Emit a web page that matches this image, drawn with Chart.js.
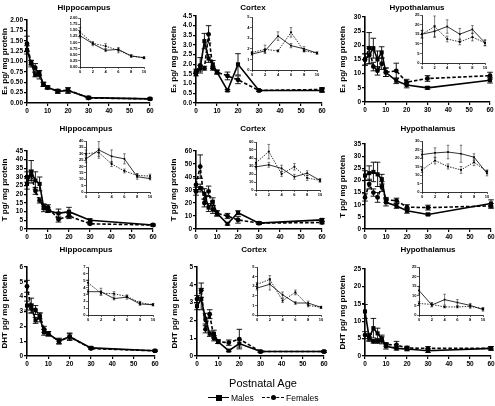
<!DOCTYPE html>
<html>
<head>
<meta charset="utf-8">
<script src="https://cdn.jsdelivr.net/npm/chart.js@4.4.1/dist/chart.umd.min.js"></script>
<style>
  body { margin: 0; width: 495px; height: 406px; position: relative; overflow: hidden; background: #fff;
         font-family: "Liberation Sans", Arial, sans-serif; }
  .ttl { position: absolute; font-weight: bold; font-size: 8px; transform: translate(-50%, -50%); white-space: nowrap; }
  .xlab { position: absolute; font-size: 11px; transform: translate(-50%, -50%); white-space: nowrap; }
  .leg { position: absolute; font-size: 8.5px; transform: translateY(-50%); white-space: nowrap; }
  .seg { position: absolute; height: 0; }
  .mk { position: absolute; background: #000; }
</style>
</head>
<body>
<script>
'use strict';

// ---------- data ----------
const days = [0, 2, 4, 6, 8, 10, 15, 20, 30, 60];
const xTicksMain = [0, 10, 20, 30, 40, 50, 60];
const xTicksInset = [0, 2, 4, 6, 8, 10];
const regions = ['Hippocampus', 'Cortex', 'Hypothalamus'];
const yTitles = ['E\u2082 pg/ mg protein', 'T pg/ mg protein', 'DHT pg/ mg protein'];
const seriesNames = ['Males', 'Females'];

// estradiol
const e2HipM = [1.28, 0.95, 0.68, 0.72, 0.45, 0.38, 0.28, 0.30, 0.13, 0.10];
const e2HipF = [1.43, 0.97, 0.85, 0.68, 0.45, 0.37, 0.29, 0.31, 0.12, 0.10];
const e2HipMErr = [0.10, 0.08, 0.05, 0.06, 0.05, 0.04, 0.05, 0.07, 0.03, 0.02];
const e2HipFErr = [0.18, 0.05, 0.10, 0.10, 0.05, 0.03, 0.03, 0.05, 0.02, 0.02];

const e2CtxM = [1.5, 1.8, 3.2, 2.3, 2.0, 1.6, 0.65, 2.0, 0.65, 0.65];
const e2CtxF = [1.65, 1.95, 1.8, 3.55, 1.8, 1.6, 1.4, 1.2, 0.65, 0.7];
const e2CtxMErr = [0.1, 0.15, 0.4, 0.2, 0.2, 0.1, 0.05, 0.55, 0.05, 0.1];
const e2CtxFErr = [0.1, 0.4, 0.1, 0.45, 0.1, 0.1, 0.2, 0.2, 0.05, 0.1];

const e2HypM = [15, 16.5, 19, 15, 17.5, 10.5, 7.5, 6, 5, 7.7];
const e2HypF = [15, 19, 12.5, 11, 13.5, 10.5, 11, 7, 8.3, 9.3];
const e2HypMErr = [2, 3, 3.5, 3, 2, 1.5, 1, 1, 0.5, 1];
const e2HypFErr = [2, 5.5, 1.5, 1.5, 2, 1.5, 2.7, 1, 1, 1.2];

// testosterone
const tHipM = [26, 33, 28, 26, 12, 10.5, 9, 10, 5, 2.3];
const tHipF = [30, 31, 22, 16.5, 13, 12.5, 5.5, 7.5, 3, 2.3];
const tHipMErr = [3, 6.5, 5, 4, 2, 1, 2.5, 2.5, 0.8, 0.5];
const tHipFErr = [3, 3, 2, 1.5, 1.5, 1.5, 1.5, 1.5, 0.5, 0.5];

const tCtxM = [29, 31.5, 27, 16.5, 21, 12, 4, 12.5, 4.5, 7];
const tCtxF = [34, 48, 20, 29, 15, 12, 10, 7, 4.5, 5];
const tCtxMErr = [3, 3, 4, 3, 3, 2, 1, 1.5, 1, 1];
const tCtxFErr = [5, 9, 3, 4, 3, 2, 2, 2.5, 1, 1];

const tHypM = [22, 23, 23.5, 22.5, 20.5, 11, 9.5, 7.5, 6, 10.5];
const tHypF = [13, 18.5, 15, 13, 17.5, 12, 11.7, 9, 8.8, 9.5];
const tHypMErr = [2, 3, 4, 5, 2, 1.5, 1, 1, 0.5, 1.5];
const tHypFErr = [1.5, 2, 1.5, 2, 2, 1, 1, 1, 1, 1];

// dihydrotestosterone
const dhtHipM = [3.4, 3.4, 2.4, 2.6, 1.6, 1.5, 1.0, 1.3, 0.55, 0.35];
const dhtHipF = [4.7, 3.2, 3.1, 2.7, 1.8, 1.5, 1.0, 1.3, 0.5, 0.35];
const dhtHipMErr = [0.3, 0.5, 0.2, 0.3, 0.2, 0.15, 0.2, 0.25, 0.08, 0.05];
const dhtHipFErr = [0.4, 0.3, 0.3, 0.2, 0.2, 0.15, 0.15, 0.2, 0.05, 0.05];

const dhtCtxM = [2.8, 3.2, 2.1, 1.25, 1.25, 0.8, 0.3, 0.7, 0.25, 0.25];
const dhtCtxF = [3.2, 3.7, 1.5, 2.35, 1.0, 0.8, 0.75, 0.95, 0.25, 0.25];
const dhtCtxMErr = [0.2, 0.6, 0.3, 0.15, 0.2, 0.1, 0.05, 0.2, 0.05, 0.05];
const dhtCtxFErr = [0.2, 0.4, 0.2, 0.25, 0.15, 0.1, 0.15, 0.55, 0.05, 0.05];

const dhtHypM = [12.8, 5.2, 8, 6.5, 5, 2.8, 2.2, 2, 1.5, 2.2];
const dhtHypF = [6, 5.5, 4.2, 4.2, 4.5, 3.3, 3.2, 2.3, 2.2, 2.2];
const dhtHypMErr = [2, 1, 2.8, 1.5, 1, 0.8, 0.5, 0.5, 0.5, 0.5];
const dhtHypFErr = [1, 1, 0.5, 0.5, 1, 0.5, 1, 0.5, 0.5, 0.5];

// y axis ranges: [max, step] for main plots and insets
const mainYMax = [2, 4.5, 30, 45, 60, 35, 6, 5, 25];
const mainYStep = [0.25, 0.5, 5, 5, 10, 5, 1, 1, 5];
const insetYMax = [2, 5, 25, 40, 60, 30, 7, 5, 25];
const insetYStep = [0.25, 1, 5, 5, 10, 5, 1, 1, 5];

// ---------- layout (plot areas in page pixels: x1, y1, x2, y2) ----------
const mainBox = [[27, 20, 150, 103], [196, 16, 322, 103], [365, 17, 490, 102],
                 [27, 151, 153, 229], [196, 151, 322, 229], [365, 144, 491, 229],
                 [27, 267, 155, 356], [197, 267, 324, 356], [365, 269, 491, 356]];
const insetBox = [[80, 18, 144, 67], [252, 17, 317, 70], [422, 15, 485, 63],
                  [86, 141, 150, 192], [256, 142, 320, 190], [422, 141, 487, 192],
                  [88, 267, 153, 315], [257, 267, 321, 315], [419, 267, 483, 315]];
const titlePos = [[[84, 7], [253, 7], [417, 7]],
                  [[86, 128], [253, 128], [428, 128]],
                  [[86, 249], [254, 249], [428, 249]]];

const panels = [
  [e2HipM, e2HipF, e2HipMErr, e2HipFErr], [e2CtxM, e2CtxF, e2CtxMErr, e2CtxFErr], [e2HypM, e2HypF, e2HypMErr, e2HypFErr],
  [tHipM, tHipF, tHipMErr, tHipFErr], [tCtxM, tCtxF, tCtxMErr, tCtxFErr], [tHypM, tHypF, tHypMErr, tHypFErr],
  [dhtHipM, dhtHipF, dhtHipMErr, dhtHipFErr], [dhtCtxM, dhtCtxF, dhtCtxMErr, dhtCtxFErr], [dhtHypM, dhtHypF, dhtHypMErr, dhtHypFErr]
];

Chart.defaults.font.family = '"Liberation Sans", Arial, sans-serif';
Chart.defaults.color = '#000';

// error bars from dataset.errors
const errorBars = {
  id: 'errorBars',
  afterDatasetsDraw(chart) {
    const ctx = chart.ctx;
    const yScale = chart.scales.y;
    chart.data.datasets.forEach((ds, i) => {
      if (!ds.errors) return;
      const meta = chart.getDatasetMeta(i);
      ctx.save();
      ctx.strokeStyle = '#000';
      ctx.lineWidth = ds.errWidth;
      meta.data.forEach((pt, j) => {
        const v = ds.data[j].y;
        const e = ds.errors[j];
        const yTop = yScale.getPixelForValue(v + e);
        const yBot = yScale.getPixelForValue(Math.max(v - e, 0));
        const c = ds.capSize;
        ctx.beginPath();
        ctx.moveTo(pt.x, yTop); ctx.lineTo(pt.x, yBot);
        ctx.moveTo(pt.x - c, yTop); ctx.lineTo(pt.x + c, yTop);
        ctx.moveTo(pt.x - c, yBot); ctx.lineTo(pt.x + c, yBot);
        ctx.stroke();
      });
      ctx.restore();
    });
  }
};

function stepTicks(max, step) {
  let out = [];
  for (let k = 0; k * step <= max + 1e-9; k++) out.push({ value: +(k * step).toFixed(4) });
  return out;
}

function decimalsFor(step) {
  if (step < 0.5) return 2;
  if (step < 1) return 1;
  return 0;
}

function addChart(box, inset, vals, yMax, yStep, yTitle) {
  const wy = inset ? 12 : 27;
  const hx = inset ? 9 : 14;
  const padT = inset ? 4 : 6;
  const padR = inset ? 4 : 5;
  const left = box[0] - wy;
  const top = box[1] - padT;
  const w = box[2] - left + padR;
  const h = box[3] + hx - top;

  const cv = document.createElement('canvas');
  cv.width = w;
  cv.height = h;
  cv.style.cssText = `position:absolute;left:${left}px;top:${top}px;width:${w}px;height:${h}px;`;
  document.body.appendChild(cv);

  const n = inset ? 6 : days.length;
  const pts = arr => days.slice(0, n).map((d, i) => ({ x: d, y: arr[i] }));
  const dec = decimalsFor(yStep);
  const tickFont = inset ? { size: 4, weight: 'bold' } : { size: 6.5, weight: 'bold' };
  const lw = inset ? 0.8 : 1.6;

  new Chart(cv, {
    type: 'scatter',
    data: {
      datasets: [
        {
          label: seriesNames[1],
          data: pts(vals[1]),
          errors: vals[3].slice(0, n),
          showLine: true,
          borderColor: '#000',
          backgroundColor: '#000',
          borderWidth: lw,
          borderDash: inset ? [1.5, 1.2] : [3.5, 2],
          pointStyle: 'circle',
          pointRadius: inset ? 1.1 : 2.4,
          pointBorderWidth: 0,
          errWidth: inset ? 0.5 : 0.9,
          capSize: inset ? 1.3 : 2.8,
          clip: false
        },
        {
          label: seriesNames[0],
          data: pts(vals[0]),
          errors: vals[2].slice(0, n),
          showLine: true,
          borderColor: '#000',
          backgroundColor: '#000',
          borderWidth: lw,
          pointStyle: 'rect',
          pointRadius: inset ? 1.2 : 2.9,
          pointBorderWidth: 0,
          errWidth: inset ? 0.5 : 0.9,
          capSize: inset ? 1.3 : 2.8,
          clip: false
        }
      ]
    },
    options: {
      responsive: false,
      animation: false,
      devicePixelRatio: 1,
      layout: { padding: { top: padT, right: padR, left: 0, bottom: 0 } },
      plugins: { legend: { display: false }, tooltip: { enabled: false } },
      scales: {
        x: {
          type: 'linear',
          min: 0,
          max: inset ? 10 : 60,
          afterBuildTicks: s => { s.ticks = (inset ? xTicksInset : xTicksMain).map(v => ({ value: v })); },
          afterFit: s => { s.height = hx; s.paddingLeft = 0; s.paddingRight = 0; },
          grid: { drawOnChartArea: false, drawTicks: true, tickLength: inset ? 2 : 3, color: '#000', lineWidth: inset ? 0.6 : 1.2 },
          border: { color: '#000', width: inset ? 0.8 : 1.6 },
          ticks: { font: tickFont, padding: inset ? 0.5 : 1, maxRotation: 0, autoSkip: false }
        },
        y: {
          min: 0,
          max: yMax,
          afterBuildTicks: s => { s.ticks = stepTicks(yMax, yStep); },
          afterFit: s => { s.width = wy; s.paddingTop = 0; s.paddingBottom = 0; },
          grid: { drawOnChartArea: false, drawTicks: true, tickLength: inset ? 2 : 3, color: '#000', lineWidth: inset ? 0.6 : 1.2 },
          border: { color: '#000', width: inset ? 0.8 : 1.6 },
          ticks: { font: tickFont, padding: inset ? 0.5 : 1, autoSkip: false, callback: v => v.toFixed(dec) },
          title: {
            display: !inset,
            text: yTitle,
            font: { size: 8, weight: 'bold' },
            padding: { top: 0, bottom: 0 }
          }
        }
      }
    },
    plugins: [errorBars]
  });
}

for (let p = 0; p < 9; p++) {
  const row = Math.floor(p / 3);
  const col = p % 3;
  addChart(mainBox[p], false, panels[p], mainYMax[p], mainYStep[p], yTitles[row]);
  addChart(insetBox[p], true, panels[p], insetYMax[p], insetYStep[p], '');

  const t = document.createElement('div');
  t.className = 'ttl';
  t.textContent = regions[col];
  t.style.left = titlePos[row][col][0] + 'px';
  t.style.top = titlePos[row][col][1] + 'px';
  document.body.appendChild(t);
}

// shared x axis label and legend
const xl = document.createElement('div');
xl.className = 'xlab';
xl.textContent = 'Postnatal Age';
xl.style.left = '263px';
xl.style.top = '383px';
document.body.appendChild(xl);

function legendItem(x0, x1, dashed, round, text) {
  const seg = document.createElement('div');
  seg.className = 'seg';
  seg.style.cssText = `left:${x0}px;top:397px;width:${x1 - x0}px;border-top:1.6px ${dashed ? 'dashed' : 'solid'} #000;`;
  document.body.appendChild(seg);
  const mk = document.createElement('div');
  mk.className = 'mk';
  const s = round ? 5 : 6;
  const cx = (x0 + x1) / 2;
  mk.style.cssText = `left:${cx - s / 2}px;top:${397.8 - s / 2}px;width:${s}px;height:${s}px;${round ? 'border-radius:50%;' : ''}`;
  document.body.appendChild(mk);
  const lab = document.createElement('div');
  lab.className = 'leg';
  lab.textContent = text;
  lab.style.left = (x1 + 2) + 'px';
  lab.style.top = '398px';
  document.body.appendChild(lab);
}
legendItem(208, 229, false, false, seriesNames[0]);
legendItem(262, 284, true, true, seriesNames[1]);
</script>
</body>
</html>
